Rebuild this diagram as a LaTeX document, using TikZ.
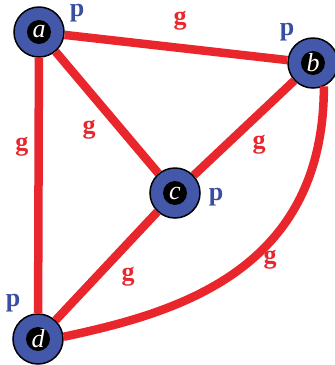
\documentclass[tikz,border=0pt]{standalone}
\usepackage{fontspec}
\setmainfont{Liberation Serif}
\usepackage{tikz}
\usetikzlibrary{positioning}

\definecolor{nodeblue}{RGB}{68,88,170}
\definecolor{edgered}{RGB}{232,38,44}
\definecolor{pblue}{RGB}{58,78,160}

\tikzset{
  vertex/.style={circle, draw=black, line width=1.5pt, fill=nodeblue,
    minimum size=50pt, inner sep=0pt, text=white,
    font=\fontsize{26}{26}\selectfont\itshape,
    path picture={\fill[black] (path picture bounding box.center) circle (12pt);}},
  edge/.style={draw=edgered, line width=8.5pt},
  glab/.style={text=edgered, inner sep=0pt, font=\fontsize{26}{26}\selectfont\bfseries},
  plab/.style={text=pblue, inner sep=0pt, font=\fontsize{26}{26}\selectfont\bfseries}
}

\begin{document}
\begin{tikzpicture}[x=1pt, y=1pt]
    \useasboundingbox (0,0) rectangle (335,-365);

    % Vertices
    \node[vertex] (a) at (39,-32) {a};
    \node[vertex] (b) at (313,-63) {b};
    \node[vertex] (c) at (175,-193) {c};
    \node[vertex] (d) at (38,-339) {d};

    % Edges
    \draw[edge] (a) -- (b);
    \draw[edge] (a) -- (c);
    \draw[edge] (a) -- (d);
    \draw[edge] (b) -- (c);
    \draw[edge] (c) -- (d);
    \draw[edge] (b.-65) .. controls +(-90:185) and +(12:115) .. (d.5);

    % Edge labels
    \node[glab] (gab) at (180,-21) {g};
    \node[glab] (gac) at (89,-130) {g};
    \node[glab] (gad) at (22,-147) {g};
    \node[glab] (gbc) at (259,-145) {g};
    \node[glab] (gcd) at (128,-277) {g};
    \node[glab] (gbd) at (270,-260) {g};

    % Vertex labels
    \node[plab] (pa) at (77,-13) {p};
    \node[plab] (pb) at (287,-32) {p};
    \node[plab] (pc) at (216,-197) {p};
    \node[plab] (pd) at (13,-303) {p};
\end{tikzpicture}
\end{document}
